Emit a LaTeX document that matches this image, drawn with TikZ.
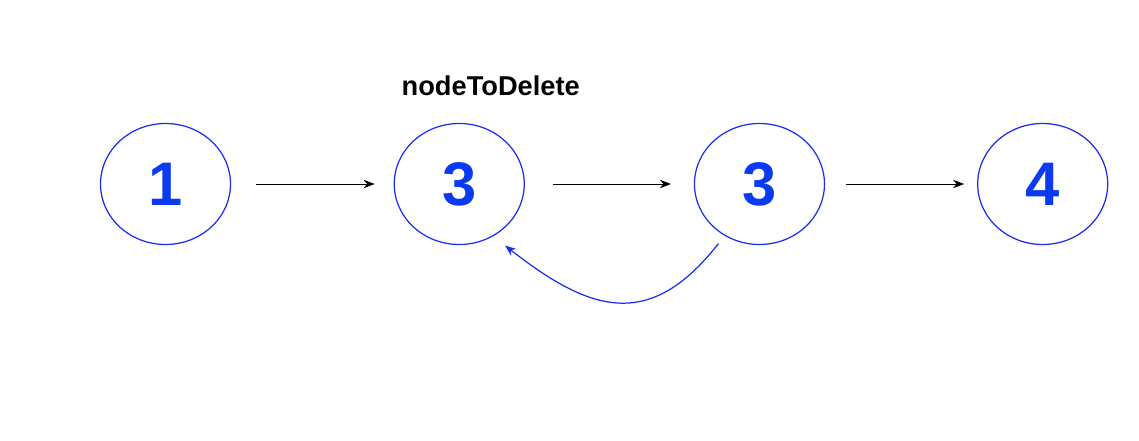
\documentclass[tikz,border=0pt]{standalone}
\usepackage{fontspec}
\setmainfont{Liberation Sans}
\usetikzlibrary{positioning, shapes.geometric, arrows.meta}
\definecolor{ringblue}{HTML}{1A2CF2}
\definecolor{digitblue}{HTML}{0A3AF2}

\begin{document}
\begin{tikzpicture}[
  listnode/.style={ellipse, draw=ringblue, line width=0.7pt, minimum width=2.6cm, minimum height=2.42cm, inner sep=0pt, text=digitblue, font=\fontsize{35}{40}\selectfont\bfseries},
  link/.style={-{Stealth[length=2.2mm, width=1.7mm]}, line width=0.5pt, draw=black, shorten <=0.5cm, shorten >=0.38cm},
  jump/.style={-{Stealth[length=2.2mm, width=1.7mm]}, line width=0.7pt, draw=ringblue}
]
\useasboundingbox (0,0) rectangle (22.78,8.8);
\node[listnode] (one) at (3.31,5.12) {1};
\node[listnode, right=3.25cm of one] (del) {3};
\node[listnode, right=3.38cm of del] (next) {3};
\node[listnode, right=3.04cm of next] (four) {4};
\node[above=0.54cm of del, xshift=0.63cm, inner sep=0pt, font=\fontsize{15.5}{18}\selectfont\bfseries] (tag) {nodeToDelete};

\draw[link] (one) -- (del);
\draw[link, shorten <=0.56cm, shorten >=0.46cm] (del) -- (next);
\draw[link, shorten <=0.42cm, shorten >=0.26cm] (next) -- (four);
\draw[jump, shorten <=0.2cm, shorten >=0.3cm] (next.236) to[out=232, in=-38, looseness=1.35] (del.-57);
\end{tikzpicture}
\end{document}
